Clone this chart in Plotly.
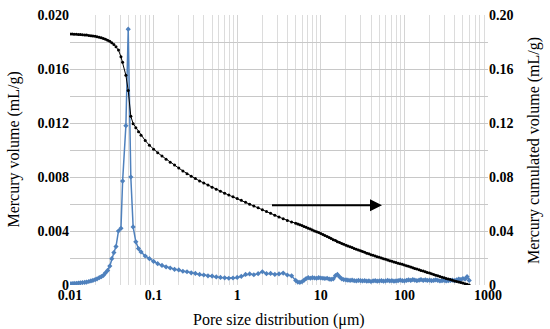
import math
import plotly.graph_objects as go

# Pore size (um)
pore_size = [
    0.0100, 0.0106, 0.0112, 0.0119, 0.0126, 0.0133, 0.0141, 0.0150, 0.0158, 0.0168,
    0.0178, 0.0188, 0.0200, 0.0211, 0.0224, 0.0237, 0.0251, 0.0266, 0.0282, 0.0299,
    0.0316, 0.0335, 0.0355, 0.0380, 0.0407, 0.0426, 0.0466, 0.0497, 0.0534, 0.0569,
    0.0613, 0.0660, 0.0708, 0.0794, 0.0891, 0.100, 0.112, 0.126, 0.141, 0.158,
    0.178, 0.200, 0.224, 0.251, 0.282, 0.316, 0.355, 0.398, 0.447, 0.501,
    0.562, 0.631, 0.708, 0.794, 0.891, 1.00, 1.12, 1.26, 1.41, 1.58,
    1.78, 2.00, 2.24, 2.51, 2.82, 3.16, 3.55, 3.98, 4.47, 5.01,
    5.31, 5.62, 5.96, 6.31, 6.68, 7.08, 7.50, 7.94, 8.41, 8.91,
    9.44, 10.0, 10.6, 11.2, 11.9, 12.6, 13.3, 14.1, 15.0, 15.8,
    16.8, 17.8, 18.8, 20.0, 21.1, 22.4, 23.7, 25.1, 26.6, 28.2,
    29.9, 31.6, 33.5, 35.5, 37.6, 39.8, 42.2, 44.7, 47.3, 50.1,
    53.1, 56.2, 59.6, 63.1, 66.8, 70.8, 75.0, 79.4, 84.1, 89.1,
    94.4, 100, 106, 112, 119, 126, 133, 141, 150, 158,
    168, 178, 188, 200, 211, 224, 237, 251, 266, 282,
    299, 316, 335, 355, 376, 398, 422, 447, 473, 501,
    531, 562, 596,
]

# Mercury volume (mL/g), left axis
mercury_volume = [
    0.00010, 0.00011, 0.00012, 0.00013, 0.00014, 0.00016, 0.00018, 0.00020, 0.00022, 0.00026,
    0.00030, 0.00034, 0.00040, 0.00046, 0.00054, 0.00062, 0.00072, 0.00090, 0.00108, 0.00140,
    0.00195, 0.00240, 0.00285, 0.00400, 0.00420, 0.00770, 0.01180, 0.01895, 0.00800, 0.00430,
    0.00320, 0.00270, 0.00245, 0.00215, 0.00195, 0.00175, 0.00158, 0.00145, 0.00134, 0.00126,
    0.00116, 0.00112, 0.00102, 0.00098, 0.00090, 0.00086, 0.00078, 0.00074, 0.00068, 0.00066,
    0.00060, 0.00056, 0.00053, 0.00050, 0.00052, 0.00056, 0.00064, 0.00078, 0.00082, 0.00076,
    0.00084, 0.00098, 0.00084, 0.00086, 0.00078, 0.00082, 0.00088, 0.00074, 0.00068, 0.00034,
    0.00022, 0.00020, 0.00024, 0.00036, 0.00048, 0.00054, 0.00050, 0.00054, 0.00052, 0.00050,
    0.00054, 0.00052, 0.00050, 0.00048, 0.00050, 0.00044, 0.00042, 0.00046, 0.00070, 0.00078,
    0.00060, 0.00046, 0.00040, 0.00038, 0.00036, 0.00034, 0.00036, 0.00032, 0.00030, 0.00034,
    0.00032, 0.00030, 0.00032, 0.00028, 0.00030, 0.00026, 0.00030, 0.00032, 0.00028, 0.00030,
    0.00032, 0.00028, 0.00030, 0.00034, 0.00030, 0.00032, 0.00028, 0.00030, 0.00032, 0.00036,
    0.00032, 0.00030, 0.00034, 0.00038, 0.00034, 0.00040, 0.00036, 0.00032, 0.00036, 0.00040,
    0.00034, 0.00038, 0.00034, 0.00036, 0.00032, 0.00034, 0.00038, 0.00034, 0.00030, 0.00032,
    0.00034, 0.00030, 0.00032, 0.00034, 0.00036, 0.00032, 0.00038, 0.00044, 0.00040, 0.00048,
    0.00044, 0.00062, 0.00034,
]

# Mercury cumulated volume (mL/g), right axis
cumulated_volume = [
    0.1860, 0.1859, 0.1858, 0.1857, 0.1856, 0.1855, 0.1854, 0.1852, 0.1851, 0.1849,
    0.1847, 0.1845, 0.1842, 0.1839, 0.1835, 0.1831, 0.1826, 0.1820, 0.1813, 0.1805,
    0.1795, 0.1782, 0.1765, 0.1740, 0.1690, 0.1650, 0.1554, 0.1440, 0.1250, 0.1195,
    0.1165, 0.1135, 0.1110, 0.1070, 0.1035, 0.1005, 0.0980, 0.0955, 0.0932, 0.0910,
    0.0888, 0.0866, 0.0845, 0.0825, 0.0806, 0.0788, 0.0771, 0.0755, 0.0740, 0.0724,
    0.0709, 0.0694, 0.0680, 0.0666, 0.0653, 0.0640, 0.0627, 0.0613, 0.0599, 0.0585,
    0.0572, 0.0558, 0.0545, 0.0531, 0.0517, 0.0503, 0.0490, 0.0478, 0.0467, 0.0458,
    0.0452, 0.0446, 0.0440, 0.0434, 0.0428, 0.0421, 0.0414, 0.0407, 0.0400, 0.0394,
    0.0388, 0.0381, 0.0374, 0.0367, 0.0359, 0.0352, 0.0344, 0.0336, 0.0329, 0.0321,
    0.0314, 0.0308, 0.0302, 0.0295, 0.0289, 0.0283, 0.0277, 0.0270, 0.0264, 0.0259,
    0.0253, 0.0248, 0.0242, 0.0236, 0.0231, 0.0225, 0.0220, 0.0215, 0.0210, 0.0205,
    0.0200, 0.0195, 0.0190, 0.0185, 0.0180, 0.0176, 0.0171, 0.0166, 0.0162, 0.0157,
    0.0153, 0.0148, 0.0143, 0.0138, 0.0133, 0.0128, 0.0123, 0.0118, 0.0113, 0.0108,
    0.0103, 0.0098, 0.0093, 0.0088, 0.0083, 0.0078, 0.0073, 0.0068, 0.0063, 0.0058,
    0.0054, 0.0049, 0.0044, 0.0040, 0.0035, 0.0030, 0.0026, 0.0022, 0.0018, 0.0014,
    0.0010, 0.0005, 0.0000,
]

x_tick_vals = [0.01, 0.1, 1, 10, 100, 1000]
x_tick_text = ["0.01", "0.1", "1", "10", "100", "1000"]
left_tick_vals = [0, 0.004, 0.008, 0.012, 0.016, 0.020]
left_tick_text = ["0", "0.004", "0.008", "0.012", "0.016", "0.020"]
right_tick_vals = [0, 0.04, 0.08, 0.12, 0.16, 0.20]
right_tick_text = ["0", "0.04", "0.08", "0.12", "0.16", "0.20"]

# arrow pointing to the right-hand axis (pore size, left-axis value)
arrow_start = (2.5, 0.0059)
arrow_end = (54, 0.0059)

FONT = "Liberation Serif"
BLUE = "#4f81bd"


def bold(labels):
    return ["<b>" + t + "</b>" for t in labels]


fig = go.Figure()
fig.add_trace(go.Scatter(
    x=pore_size, y=mercury_volume, mode="lines+markers",
    line=dict(color=BLUE, width=1.5),
    marker=dict(symbol="diamond", size=4, color=BLUE),
    yaxis="y", showlegend=False,
))
fig.add_trace(go.Scatter(
    x=pore_size, y=cumulated_volume, mode="lines+markers",
    line=dict(color="black", width=1),
    marker=dict(symbol="circle", size=3, color="black"),
    yaxis="y2", showlegend=False,
))

fig.add_annotation(
    x=math.log10(arrow_end[0]), y=arrow_end[1],
    ax=math.log10(arrow_start[0]), ay=arrow_start[1],
    xref="x", yref="y", axref="x", ayref="y",
    text="", showarrow=True, arrowhead=2, arrowsize=1.2, arrowwidth=2,
    arrowcolor="black",
)

fig.add_annotation(
    x=0.5, y=-0.13, xref="paper", yref="paper", yanchor="middle",
    text="Pore size distribution (\u03bcm)", showarrow=False,
    font=dict(family=FONT, size=16, color="black"),
)
fig.add_annotation(
    x=-0.135, y=0.5, xref="paper", yref="paper", xanchor="center",
    text="Mercury volume (mL/g)", textangle=-90, showarrow=False,
    font=dict(family=FONT, size=16, color="black"),
)
fig.add_annotation(
    x=1.11, y=0.5, xref="paper", yref="paper", xanchor="center",
    text="Mercury cumulated volume (mL/g)", textangle=-90, showarrow=False,
    font=dict(family=FONT, size=16, color="black"),
)

TICKFONT = dict(family=FONT, size=14, color="black")

fig.update_layout(
    width=550, height=329,
    margin=dict(l=70, r=62, t=15, b=44, autoexpand=False),
    paper_bgcolor="white", plot_bgcolor="white",
    font=dict(family=FONT, color="black"),
    xaxis=dict(
        type="log", range=[-2, 3], automargin=False,
        tickmode="array", tickvals=x_tick_vals, ticktext=bold(x_tick_text),
        tickfont=TICKFONT,
        showgrid=True, gridcolor="#d4d4d4", gridwidth=1,
        minor=dict(dtick="D1", showgrid=True, gridcolor="#dcdcdc", gridwidth=1),
        zeroline=False, showline=False, ticks="",
    ),
    yaxis=dict(
        range=[0, 0.020], automargin=False,
        tickmode="array", tickvals=left_tick_vals, ticktext=bold(left_tick_text),
        tickfont=TICKFONT,
        showgrid=True, gridcolor="#c8c8c8", gridwidth=1,
        minor=dict(dtick=0.002, showgrid=True, gridcolor="#c8c8c8", gridwidth=1),
        zeroline=False, showline=False, ticks="",
    ),
    yaxis2=dict(
        range=[0, 0.20], overlaying="y", side="right", automargin=False,
        tickmode="array", tickvals=right_tick_vals, ticktext=bold(right_tick_text),
        tickfont=TICKFONT,
        showgrid=False, zeroline=False, showline=False, ticks="",
    ),
)

fig.write_html(
    "out.html",
    config={"displayModeBar": False},
    post_script="document.body.style.margin='0';document.body.style.padding='0';",
)
